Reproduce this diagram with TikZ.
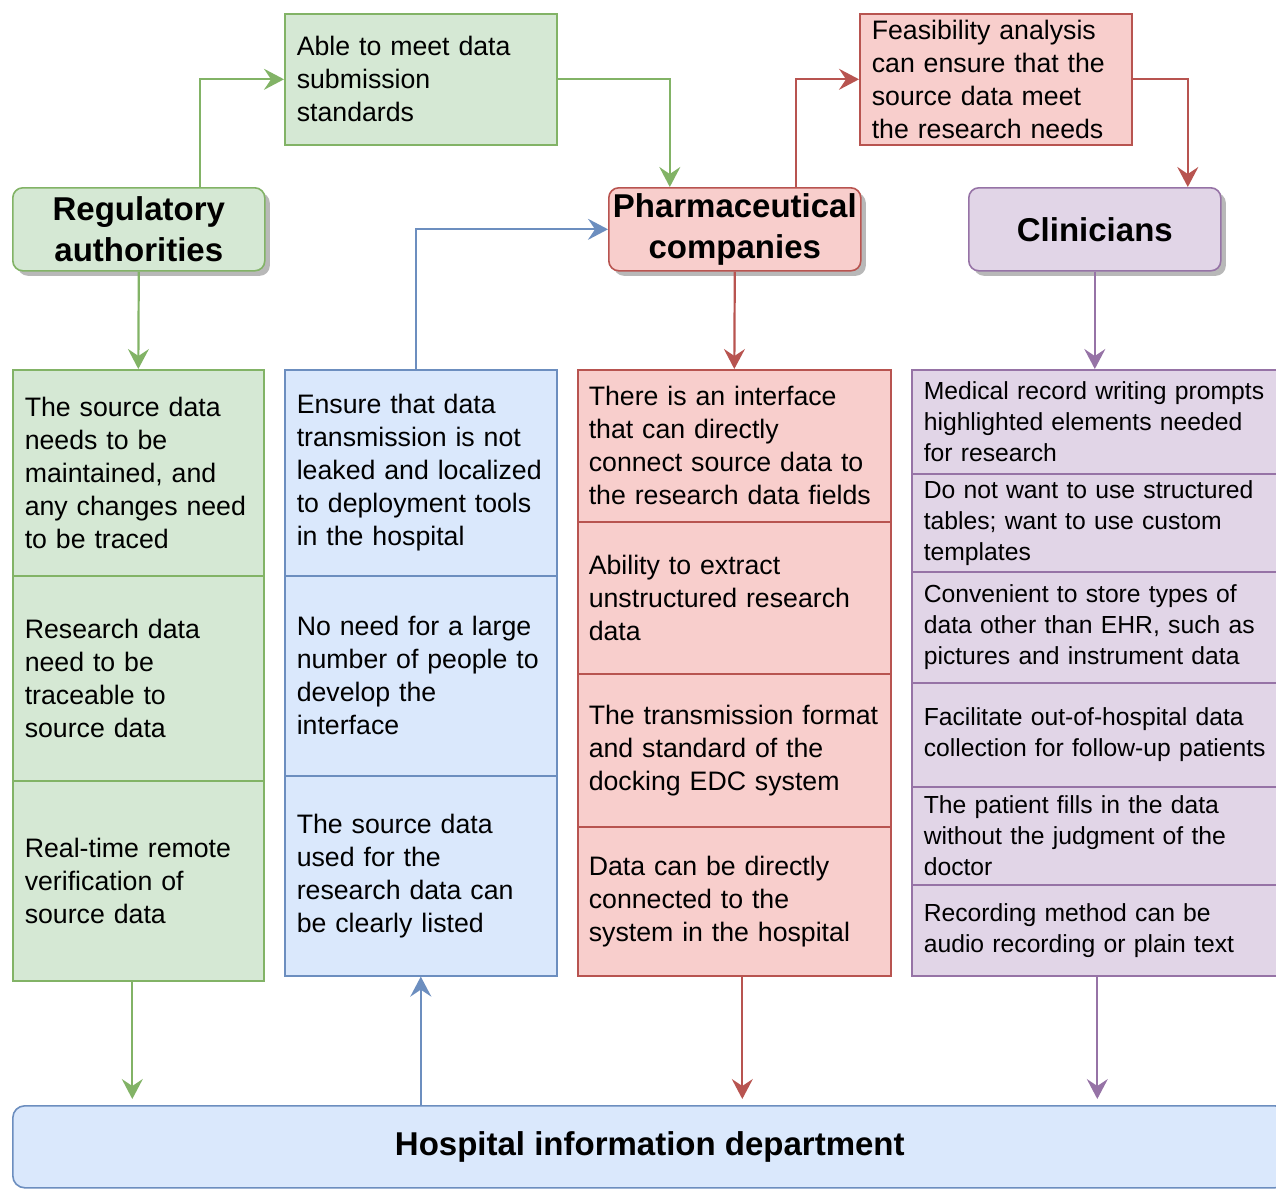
\documentclass[tikz,border=0pt]{standalone}
\usepackage{fontspec}
\setmainfont{Liberation Sans}
\usetikzlibrary{arrows.meta,shadows}

\definecolor{gfill}{HTML}{D5E8D4}
\definecolor{gline}{HTML}{82B366}
\definecolor{bfill}{HTML}{DAE8FC}
\definecolor{bline}{HTML}{6C8EBF}
\definecolor{rfill}{HTML}{F8CECC}
\definecolor{rline}{HTML}{B85450}
\definecolor{pfill}{HTML}{E1D5E7}
\definecolor{pline}{HTML}{9673A6}

\tikzset{
  cell/.style={draw, line width=1.6pt, rectangle, anchor=north west, align=left,
    inner xsep=12pt, inner ysep=0pt, font=\fontsize{26.7}{33}\selectfont},
  gcell/.style={cell, fill=gfill, draw=gline, text width=227pt, minimum width=251pt},
  bcell/.style={cell, fill=bfill, draw=bline, text width=248pt, minimum width=272pt},
  rcell/.style={cell, fill=rfill, draw=rline, inner xsep=11pt, text width=291pt, minimum width=313pt},
  pcell/.style={cell, fill=pfill, draw=pline, text width=355pt, minimum width=379pt,
    font=\fontsize{24.7}{31}\selectfont},
  actor/.style={draw, line width=1.6pt, rectangle, rounded corners=10pt, anchor=north west,
    align=center, inner sep=0pt, minimum width=252pt, minimum height=83pt,
    font=\fontsize{33}{41}\selectfont\bfseries,
    drop shadow={shadow xshift=5pt, shadow yshift=-5pt, fill=black!28, opacity=1}},
  link/.style={line width=2.2pt, -{Stealth[length=20pt,width=21pt,inset=7pt]}},
  glink/.style={link, draw=gline},
  blink/.style={link, draw=bline},
  rlink/.style={link, draw=rline},
  plink/.style={link, draw=pline},
}

\begin{document}
\begin{tikzpicture}[x=1pt, y=-1pt]
\useasboundingbox (0,0) rectangle (1276,1189);

% Upper boxes
\node[gcell, text width=248pt, minimum width=272pt, minimum height=131pt] (std) at (284,13)
  {Able to meet data\\submission\\standards};
\node[rcell, inner xsep=12pt, text width=248pt, minimum width=272pt, minimum height=131pt] (feas) at (859,13)
  {Feasibility analysis\\can ensure that the\\source data meet\\the research needs};

% Actors
\node[actor, fill=gfill, draw=gline] (reg) at (12,187) {Regulatory\\authorities};
\node[actor, fill=rfill, draw=rline] (pharma) at (608,187) {Pharmaceutical\\companies};
\node[actor, fill=pfill, draw=pline] (clin) at (968,187) {Clinicians};

% Green column
\node[gcell, minimum height=206pt] (g1) at (12,369)
  {The source data\\needs to be\\maintained, and\\any changes need\\to be traced};
\node[gcell, minimum height=205pt] (g2) at (12,575)
  {Research data\\need to be\\traceable to\\source data};
\node[gcell, minimum height=200pt] (g3) at (12,780)
  {Real-time remote\\verification of\\source data};

% Blue column
\node[bcell, minimum height=206pt] (b1) at (284,369)
  {Ensure that data\\transmission is not\\leaked and localized\\to deployment tools\\in the hospital};
\node[bcell, minimum height=200pt] (b2) at (284,575)
  {No need for a large\\number of people to\\develop the\\interface};
\node[bcell, minimum height=200pt] (b3) at (284,775)
  {The source data\\used for the\\research data can\\be clearly listed};

% Red column
\node[rcell, minimum height=152pt] (r1) at (577,369)
  {There is an interface\\that can directly\\connect source data to\\the research data fields};
\node[rcell, minimum height=152pt] (r2) at (577,521)
  {Ability to extract\\unstructured research\\data};
\node[rcell, minimum height=153pt] (r3) at (577,673)
  {The transmission format\\and standard of the\\docking EDC system};
\node[rcell, minimum height=149pt] (r4) at (577,826)
  {Data can be directly\\connected to the\\system in the hospital};

% Purple column
\node[pcell, minimum height=104pt] (p1) at (911,369)
  {Medical record writing prompts\\highlighted elements needed\\for research};
\node[pcell, minimum height=98pt] (p2) at (911,473)
  {Do not want to use structured\\tables; want to use custom\\templates};
\node[pcell, minimum height=111pt] (p3) at (911,571)
  {Convenient to store types of\\data other than EHR, such as\\pictures and instrument data};
\node[pcell, minimum height=104pt] (p4) at (911,682)
  {Facilitate out-of-hospital data\\collection for follow-up patients};
\node[pcell, minimum height=98pt] (p5) at (911,786)
  {The patient fills in the data\\without the judgment of the\\doctor};
\node[pcell, minimum height=91pt] (p6) at (911,884)
  {Recording method can be\\audio recording or plain text};

% Hospital
\node[draw=bline, fill=bfill, line width=1.6pt, rounded corners=12pt, anchor=north west,
  minimum width=1274pt, minimum height=82pt, font=\fontsize{33}{41}\selectfont\bfseries]
  (hosp) at (12,1105) {Hospital information department};

% Upper arrows
\draw[glink] ([xshift=61pt]reg.north) |- (std.west);
\draw[glink] (std.east) -| ([xshift=-65pt]pharma.north);
\draw[rlink] ([xshift=61pt]pharma.north) |- (feas.west);
\draw[rlink] (feas.east) -| ([xshift=93pt]clin.north);
\draw[blink] ([xshift=-5pt]b1.north) |- (pharma.west);

\draw[glink] (reg.south) -- (g1.north);
\draw[rlink] (pharma.south) -- (r1.north);
\draw[plink] (clin.south) -- (clin.south |- p1.north);

% Lower arrows
\draw[glink, shorten >=6pt] ([xshift=-6pt]g3.south) -- ([xshift=-6pt]g3.south |- hosp.north);
\draw[blink] (b3.south |- hosp.north) -- (b3.south);
\draw[rlink, shorten >=6pt] ([xshift=8pt]r4.south) -- ([xshift=8pt]r4.south |- hosp.north);
\draw[plink, shorten >=6pt] ([xshift=-4pt]p6.south) -- ([xshift=-4pt]p6.south |- hosp.north);

\end{tikzpicture}
\end{document}
